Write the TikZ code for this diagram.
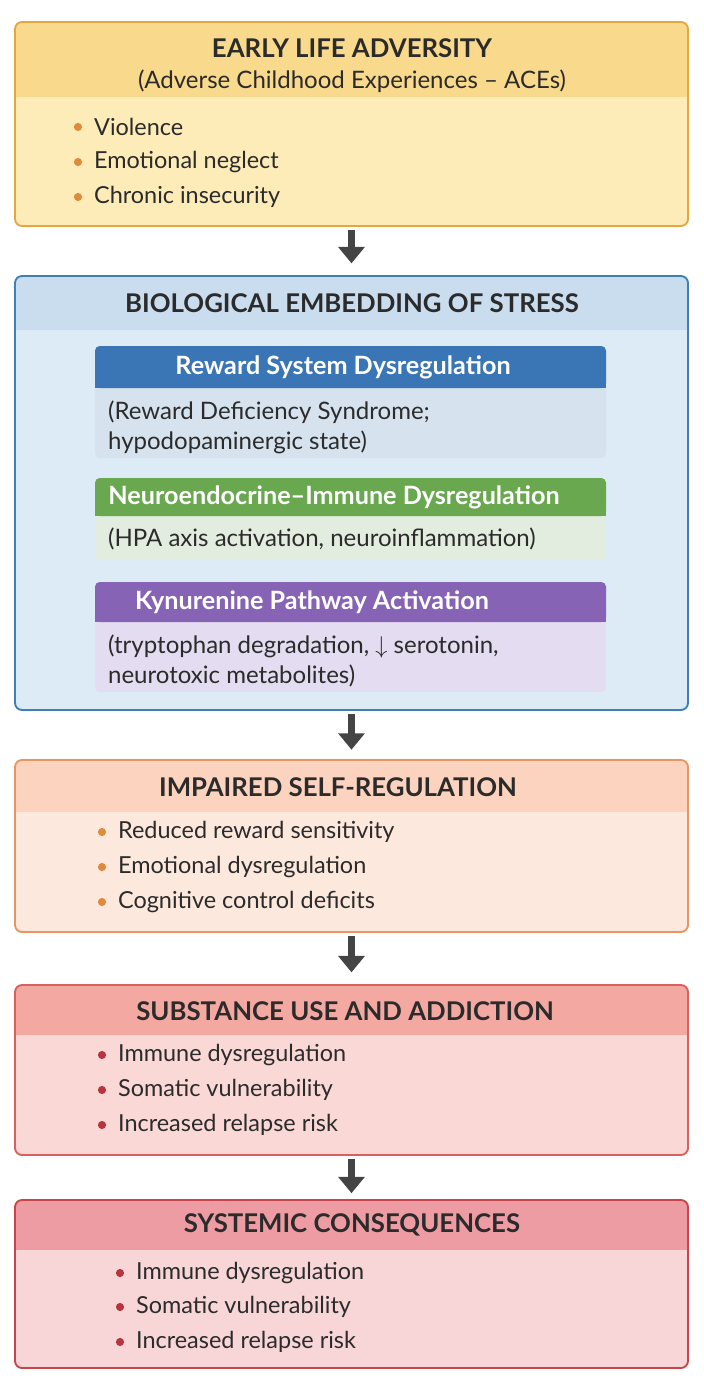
\documentclass[tikz,border=0pt]{standalone}
\usepackage{fontspec}
\setmainfont{Lato}
\usetikzlibrary{arrows.meta,positioning}

\definecolor{arrgray}{HTML}{444444}
\definecolor{txt}{HTML}{2B2B2B}
\definecolor{elaline}{HTML}{E8A640}\definecolor{elahead}{HTML}{F9D98B}\definecolor{elabody}{HTML}{FDEBB8}
\definecolor{bioline}{HTML}{3F7FB5}\definecolor{biohead}{HTML}{C9DDEF}\definecolor{biobody}{HTML}{DDEBF7}
\definecolor{rewhead}{HTML}{3A76B5}\definecolor{rewbody}{HTML}{D6E3EF}
\definecolor{neuhead}{HTML}{6AA84F}\definecolor{neubody}{HTML}{E3EDDF}
\definecolor{kynhead}{HTML}{8663B5}\definecolor{kynbody}{HTML}{E4DCF0}
\definecolor{isrline}{HTML}{E8955F}\definecolor{isrhead}{HTML}{FBD3BE}\definecolor{isrbody}{HTML}{FDE8DD}
\definecolor{sualine}{HTML}{D8605E}\definecolor{suahead}{HTML}{F4A8A2}\definecolor{suabody}{HTML}{FAD8D6}
\definecolor{sysline}{HTML}{C8454E}\definecolor{syshead}{HTML}{EE9CA3}\definecolor{sysbody}{HTML}{F8D6D8}
\definecolor{dotorange}{HTML}{E08A3C}\definecolor{dotred}{HTML}{B8343F}

\tikzset{
  stage/.style={draw=#1, line width=1.6pt, rounded corners=6pt, inner sep=0pt},
  head/.style={font=\fontsize{22}{24}\selectfont\bfseries, text=txt},
  head2/.style={font=\fontsize{20.5}{24}\selectfont, text=txt},
  sub/.style={font=\fontsize{21.5}{24}\selectfont\bfseries, text=white},
  item/.style={font=\fontsize{20}{22}\selectfont, text=txt, anchor=west},
  par/.style={font=\fontsize{20.5}{25}\selectfont, text=txt, anchor=north west, align=left},
  dot/.style={circle, fill=#1, inner sep=0pt, minimum size=7pt},
  down/.style={-{Triangle[length=14pt,width=22pt]}, line width=6pt, draw=arrgray}
}

% box with header band: #1 name, #2 left, #3 top, #4 right, #5 bottom, #6 band bottom, #7 colour prefix
\newcommand{\stagebox}[7]{
  \fill[#7body, rounded corners=6pt] (#2,#3) rectangle (#4,#5);
  \begin{scope}
    \clip[rounded corners=6pt] (#2,#3) rectangle (#4,#5);
    \fill[#7head] (#2,#3) rectangle (#4,#6);
  \end{scope}
  \node[stage=#7line, minimum width={(#4-#2)*0.03cm}, minimum height={(#5-#3)*0.03cm}]
    (#1) at ({(#2+#4)/2},{(#3+#5)/2}) {};
}

\begin{document}
\begin{tikzpicture}[x=0.03cm, y=-0.03cm]
\useasboundingbox (0,0) rectangle (703,1382);

% Early life adversity
\stagebox{ela}{15}{22}{688}{226}{97}{ela}
\node[head] at (352,48) {EARLY LIFE ADVERSITY};
\node[head2] at (352,81) {(Adverse Childhood Experiences -- ACEs)};
\foreach \y/\t in {127/Violence, 162/Emotional neglect, 197/Chronic insecurity}{
  \node[dot=dotorange] at (78,\y) {};
  \node[item] at (90,\y) {\t};
}

% Biological embedding
\stagebox{bio}{15}{276}{688}{710}{330}{bio}
\node[head] at (352,303) {BIOLOGICAL EMBEDDING OF STRESS};

\fill[rewbody, rounded corners=4pt] (95,346) rectangle (606,458);
\fill[rewhead, rounded corners=4pt] (95,346) rectangle (606,388);
\fill[rewhead] (95,375) rectangle (606,388);
\fill[neubody, rounded corners=4pt] (95,478) rectangle (606,560);
\fill[neuhead, rounded corners=4pt] (95,478) rectangle (606,516);
\fill[neuhead] (95,505) rectangle (606,516);
\fill[kynbody, rounded corners=4pt] (95,582) rectangle (606,692);
\fill[kynhead, rounded corners=4pt] (95,582) rectangle (606,622);
\fill[kynhead] (95,610) rectangle (606,622);
\node[sub] at (343,367) {Reward System Dysregulation};
\node[par] at (104,397) {(Reward Deficiency Syndrome;\\hypodopaminergic state)};
\node[sub] at (334,497) {Neuroendocrine--Immune Dysregulation};
\node[par] at (104,524) {(HPA axis activation, neuroinflammation)};
\node[sub] at (312,602) {Kynurenine Pathway Activation};
\node[par] at (104,631) {(tryptophan degradation, $\downarrow$ serotonin,\\neurotoxic metabolites)};

% Impaired self-regulation
\stagebox{isr}{15}{760}{688}{932}{812}{isr}
\node[head] at (338,787) {IMPAIRED SELF-REGULATION};
\foreach \y/\t in {832/Reduced reward sensitivity, 867/Emotional dysregulation, 902/Cognitive control deficits}{
  \node[dot=dotorange] at (102,\y) {};
  \node[item] at (114,\y) {\t};
}

% Substance use
\stagebox{sua}{15}{985}{688}{1155}{1035}{sua}
\node[head] at (345,1011) {SUBSTANCE USE AND ADDICTION};
\foreach \y/\t in {1055/Immune dysregulation, 1090/Somatic vulnerability, 1125/Increased relapse risk}{
  \node[dot=dotred] at (102,\y) {};
  \node[item] at (114,\y) {\t};
}

% Systemic consequences
\stagebox{sys}{15}{1200}{688}{1368}{1250}{sys}
\node[head] at (352,1225) {SYSTEMIC CONSEQUENCES};
\foreach \y/\t in {1273/Immune dysregulation, 1307/Somatic vulnerability, 1342/Increased relapse risk}{
  \node[dot=dotred] at (120,\y) {};
  \node[item] at (132,\y) {\t};
}

% arrows
\draw[down, shorten <=3pt, shorten >=10pt] (ela.south) -- (bio.north);
\draw[down, shorten <=3pt, shorten >=8pt] (bio.south) -- (isr.north);
\draw[down, shorten <=3pt, shorten >=10pt] (isr.south) -- (sua.north);
\draw[down, shorten <=3pt, shorten >=5pt] (sua.south) -- (sys.north);
\end{tikzpicture}
\end{document}
